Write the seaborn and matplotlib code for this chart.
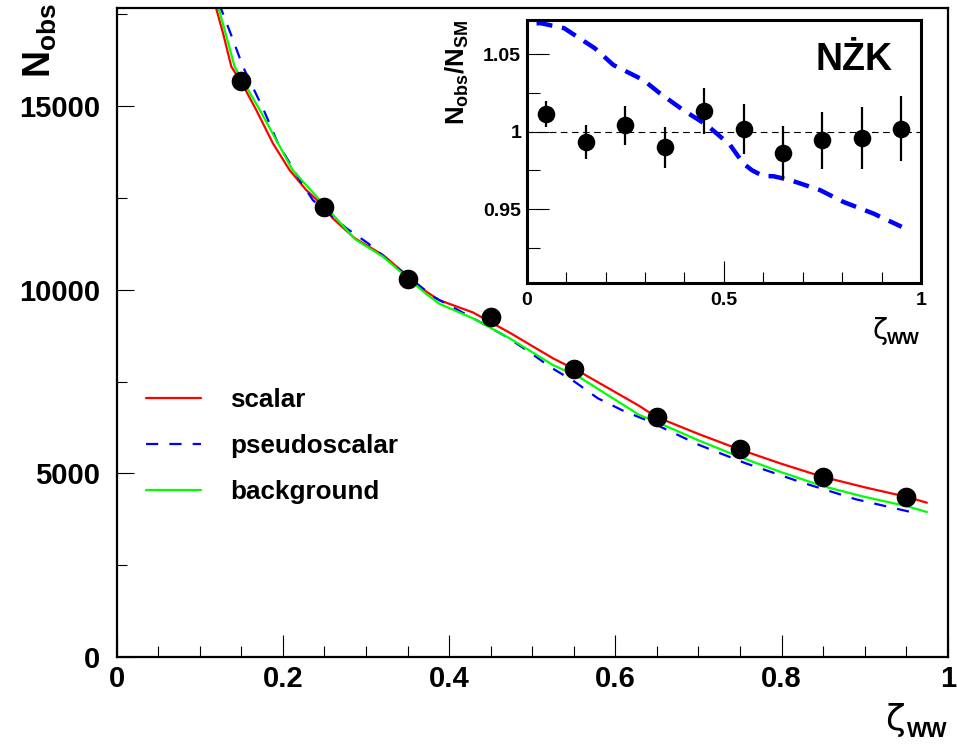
import matplotlib
matplotlib.use("Agg")
import matplotlib.pyplot as plt
import seaborn as sns
import numpy as np
import pandas as pd

# ---------------- data ----------------
scalar_x = [0.118, 0.128, 0.138, 0.150, 0.168, 0.188, 0.208, 0.228, 0.250, 0.260, 0.2865,
            0.3205, 0.3487, 0.3727, 0.3887, 0.4288, 0.4729, 0.525, 0.557, 0.629, 0.649,
            0.701, 0.749, 0.800, 0.849, 0.902, 0.950, 0.975]
scalar_y = [17800, 16980, 16070, 15650, 14890, 13985, 13259, 12715, 12250, 11944, 11400,
            10945, 10400, 9946, 9710, 9380, 8830, 8132, 7768, 6834, 6540,
            6064, 5655, 5260, 4909, 4610, 4364, 4201]

background_x = [0.121, 0.131, 0.142, 0.1723, 0.2116, 0.250, 0.2865, 0.3205, 0.3487, 0.3727,
                0.3888, 0.4288, 0.4729, 0.525, 0.557, 0.629, 0.649, 0.700, 0.749, 0.800,
                0.849, 0.900, 0.950, 0.975]
background_y = [17800, 16980, 16070, 14890, 13259, 12300, 11380, 10900, 10350, 9880,
                9611, 9221, 8677, 7950, 7615, 6589, 6406, 5900, 5453, 5030,
                4656, 4360, 4111, 3948]

pseudo_x = [0.123, 0.137, 0.152, 0.177, 0.194, 0.2204, 0.236, 0.2765, 0.3025, 0.3286, 0.3807,
            0.4088, 0.4389, 0.469, 0.497, 0.523, 0.551, 0.579, 0.609, 0.637, 0.701, 0.757,
            0.8216, 0.8897, 0.954]
pseudo_y = [17800, 16980, 16070, 14890, 13985, 12986, 12440, 11672, 11263, 10762, 9810,
            9470, 9100, 8720, 8296, 7878, 7496, 7043, 6710, 6453, 5772, 5273,
            4773, 4293, 3956]

data_x = [0.15, 0.25, 0.35, 0.45, 0.55, 0.65, 0.75, 0.85, 0.95]
data_y = [15682, 12252, 10291, 9257, 7841, 6526, 5655, 4900, 4348]

ratio_x = [0.05, 0.15, 0.25, 0.35, 0.45, 0.55, 0.65, 0.75, 0.85, 0.95]
ratio_y = [1.0114, 0.9935, 1.0041, 0.9899, 1.0134, 1.0017, 0.9864, 0.9946, 0.9957, 1.0019]
ratio_err = [0.0083, 0.011, 0.0126, 0.0134, 0.015, 0.016, 0.017, 0.0184, 0.020, 0.021]

pratio_x = [0.025, 0.036, 0.095, 0.173, 0.22, 0.296, 0.338, 0.397, 0.457, 0.516, 0.549,
            0.571, 0.600, 0.625, 0.668, 0.744, 0.803, 0.879, 0.951]
pratio_y = [1.0701, 1.0701, 1.0669, 1.0539, 1.0431, 1.0334, 1.0248, 1.014, 1.0043, 0.9914,
            0.9796, 0.9752, 0.9713, 0.9713, 0.9688, 0.9623, 0.9547, 0.9472, 0.9386]

main_xticks = [0, 0.2, 0.4, 0.6, 0.8, 1.0]
main_xticklabels = ["0", "0.2", "0.4", "0.6", "0.8", "1"]
main_yticks = [0, 5000, 10000, 15000]
main_yticklabels = ["0", "5000", "10000", "15000"]
inset_xticks = [0, 0.5, 1.0]
inset_xticklabels = ["0", "0.5", "1"]
inset_yticks = [0.95, 1.0, 1.05]
inset_yticklabels = ["0.95", "1", "1.05"]
series_labels = ["scalar", "pseudoscalar", "background"]

# ---------------- style ----------------
sns.set_theme(style="ticks")
plt.rcParams["font.family"] = ["Liberation Sans", "DejaVu Sans"]
plt.rcParams["font.weight"] = "bold"
plt.rcParams["text.color"] = "black"
plt.rcParams["axes.labelcolor"] = "black"
plt.rcParams["xtick.color"] = "black"
plt.rcParams["ytick.color"] = "black"
plt.rcParams["mathtext.fontset"] = "custom"
plt.rcParams["mathtext.rm"] = "Liberation Sans"
plt.rcParams["mathtext.it"] = "Liberation Sans:italic"
plt.rcParams["mathtext.bf"] = "Liberation Sans:bold"

W, H = 957, 744
fig = plt.figure(figsize=(W / 100, H / 100), dpi=100)
fig.patch.set_facecolor("white")

def fx(px):
    return px / W

def fy(py):
    return 1 - py / H

# main axes
ax = fig.add_axes([fx(116.7), fy(657), fx(947.7) - fx(116.7), fy(8) - fy(657)])
ax.set_facecolor("white")

sns.lineplot(x=scalar_x, y=scalar_y, ax=ax, color="#ff0000", lw=1.6, sort=False,
             label=series_labels[0])
sns.lineplot(x=pseudo_x, y=pseudo_y, ax=ax, color="#0000ff", lw=1.6, sort=False,
             dashes=False, label=series_labels[1])
ax.lines[-1].set_dashes([5.5, 5])
sns.lineplot(x=background_x, y=background_y, ax=ax, color="#00ff00", lw=1.6, sort=False,
             label=series_labels[2])
sns.scatterplot(x=data_x, y=data_y, ax=ax, color="black", s=200, edgecolor="black",
                linewidth=0, zorder=5)

ax.set_xlim(0, 1.0)
ax.set_ylim(0, 17670)
ax.set_xticks(main_xticks)
ax.set_xticklabels(main_xticklabels)
ax.set_xticks(np.arange(0, 1.0001, 0.05), minor=True)
ax.set_yticks(main_yticks)
ax.set_yticklabels(main_yticklabels)
ax.set_yticks(np.arange(0, 17670, 2500), minor=True)
ax.tick_params(axis="x", which="major", direction="in", length=16, width=0.8, pad=6,
               labelsize=21, colors="black")
ax.tick_params(axis="x", which="minor", direction="in", length=8, width=0.8)
ax.tick_params(axis="y", which="major", direction="in", length=12, width=0.8, pad=12,
               labelsize=21, colors="black")
ax.tick_params(axis="y", which="minor", direction="in", length=7, width=0.8)
for lab in ax.get_xticklabels() + ax.get_yticklabels():
    lab.set_fontweight("bold")
for s in ax.spines.values():
    s.set_visible(True)
    s.set_linewidth(1.6)
    s.set_color("black")
ax.set_xlabel("")
ax.set_ylabel("")

leg = ax.legend(loc="upper left",
                bbox_to_anchor=((145 - 9 - 116.7) / (947.7 - 116.7) + 0.012, (657 - 388) / 649.0),
                frameon=False, fontsize=18.7, handlelength=2.1, handletextpad=1.15,
                labelspacing=0.84, borderaxespad=0, borderpad=0)
for t in leg.get_texts():
    t.set_fontweight("bold")
    t.set_color("black")

# main axis labels
fig.text(fx(40), fy(3), r"$\mathbf{N_{obs}}$", rotation=90, ha="center", va="top", fontsize=27)
fig.text(fx(905), fy(730), "ζ", ha="right", va="baseline", fontsize=26, fontweight="normal",
         family=["DejaVu Sans"])
fig.text(fx(947), fy(737), "WW", ha="right", va="baseline", fontsize=15.5, fontweight="bold")

# inset axes
ins = fig.add_axes([fx(526.7), fy(283.3), fx(921) - fx(526.7), fy(20) - fy(283.3)])
ins.set_facecolor("white")
ins.axhline(1.0, color="black", lw=0.8, dashes=[6, 4], zorder=1)
sns.lineplot(x=pratio_x, y=pratio_y, ax=ins, color="#0000ff", lw=3.2, sort=False)
ins.lines[-1].set_dashes([3.6, 2.2])
ins.errorbar(ratio_x, ratio_y, yerr=ratio_err, fmt="none", ecolor="black", elinewidth=1.6,
             capsize=0, zorder=4)
sns.scatterplot(x=ratio_x, y=ratio_y, ax=ins, color="black", s=160, linewidth=0, zorder=5)
ins.set_xlim(0, 1.0)
ins.set_ylim(0.9021, 1.0722)
ins.set_xticks(inset_xticks)
ins.set_xticklabels(inset_xticklabels)
ins.set_xticks(np.arange(0, 1.0001, 0.1), minor=True)
ins.set_yticks(inset_yticks)
ins.set_yticklabels(inset_yticklabels)
ins.set_yticks([0.925, 0.975, 1.025], minor=True)
ins.tick_params(axis="x", which="major", direction="in", length=16, width=0.8, pad=6,
                labelsize=14, colors="black")
ins.tick_params(axis="x", which="minor", direction="in", length=8, width=0.8)
ins.tick_params(axis="y", which="major", direction="in", length=16, width=0.8, pad=4,
                labelsize=14, colors="black")
ins.tick_params(axis="y", which="minor", direction="in", length=9, width=0.8)
for lab in ins.get_xticklabels() + ins.get_yticklabels():
    lab.set_fontweight("bold")
for s in ins.spines.values():
    s.set_visible(True)
    s.set_linewidth(2.2)
    s.set_color("black")
ins.set_xlabel("")
ins.set_ylabel("")

fig.text(fx(893), fy(70), "NŻK", ha="right", va="baseline", fontsize=27, fontweight="bold")
fig.text(fx(457), fy(20), r"$\mathbf{N_{obs}/N_{SM}}$", rotation=90, ha="center", va="top",
         fontsize=18.5)
fig.text(fx(888), fy(339), "ζ", ha="right", va="baseline", fontsize=20, fontweight="normal",
         family=["DejaVu Sans"])
fig.text(fx(920), fy(344), "WW", ha="right", va="baseline", fontsize=12.5, fontweight="bold")

fig.savefig("out.png", dpi=100)
